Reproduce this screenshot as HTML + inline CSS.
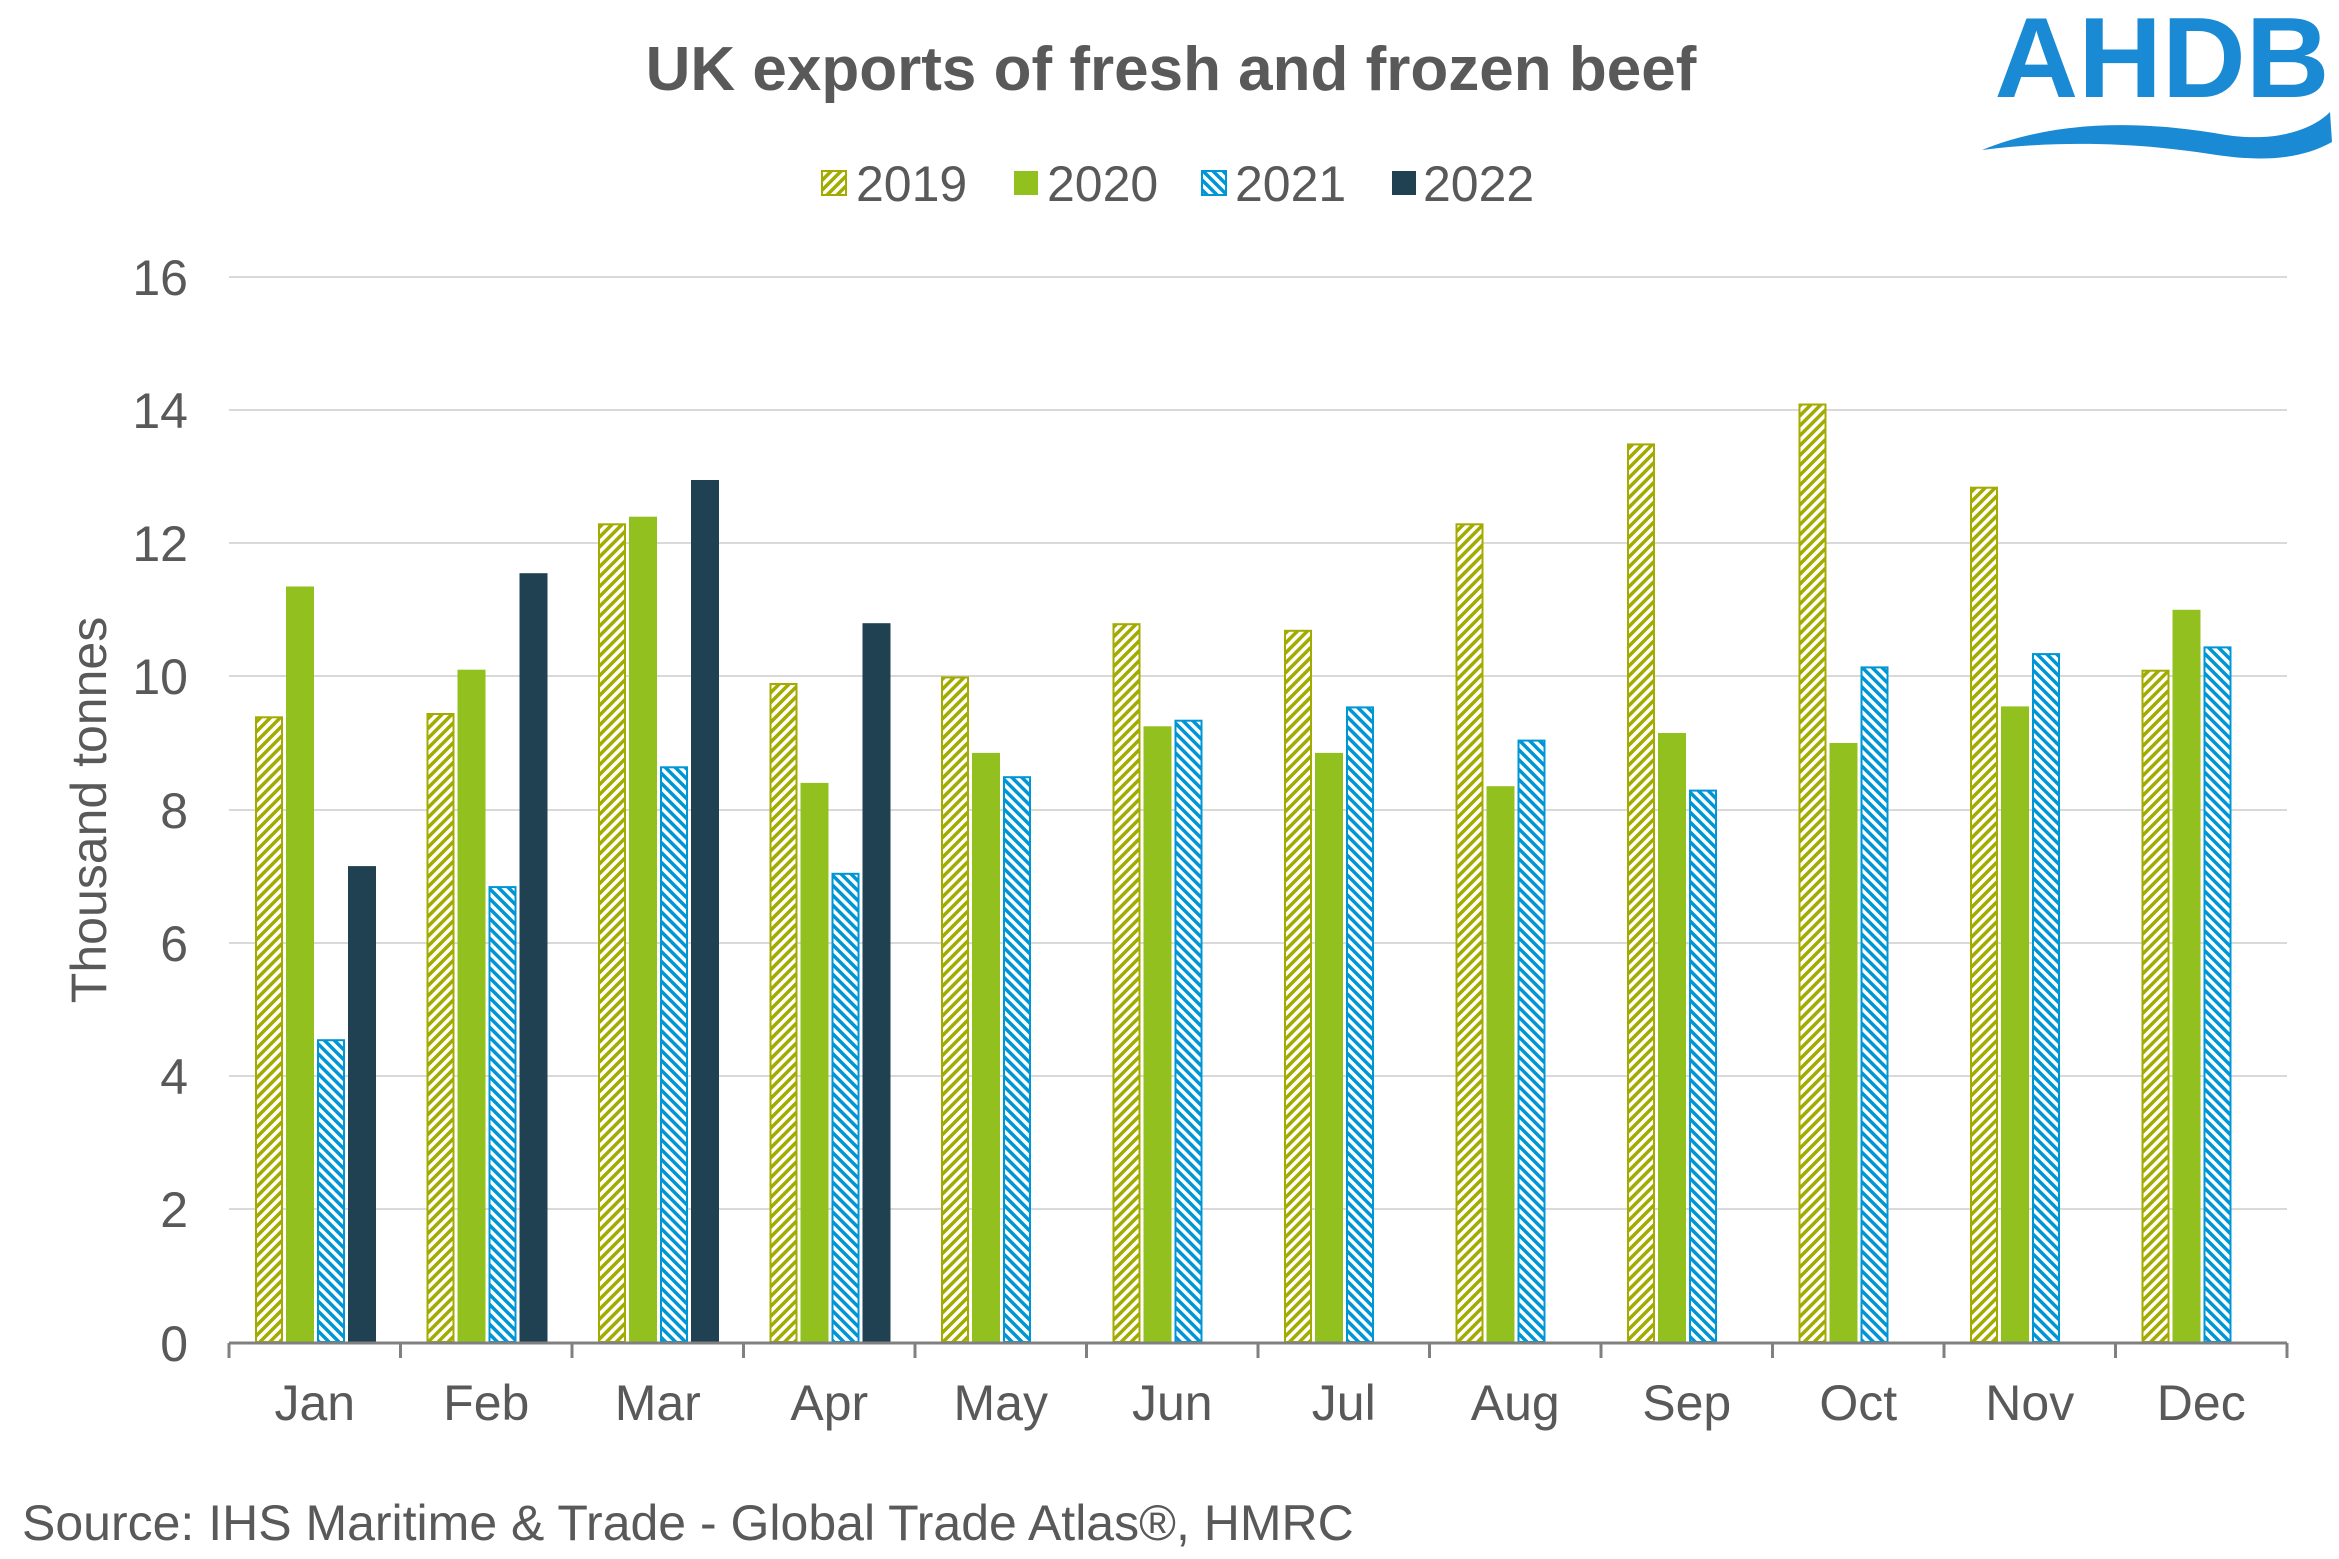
<!DOCTYPE html>
<html><head><meta charset="utf-8"><style>html,body{margin:0;padding:0;background:#fff}svg{display:block}</style></head>
<body>
<svg width="2339" height="1559" viewBox="0 0 2339 1559" xmlns="http://www.w3.org/2000/svg" font-family="Liberation Sans, Arial, sans-serif">
<defs>
<pattern id="p19" patternUnits="userSpaceOnUse" width="7" height="7" patternTransform="rotate(45)">
<rect width="7" height="7" fill="#fff"/><rect width="3.5" height="7" fill="#a3ab00"/></pattern>
<pattern id="p21" patternUnits="userSpaceOnUse" width="7" height="7" patternTransform="rotate(-45)">
<rect width="7" height="7" fill="#fff"/><rect width="3.5" height="7" fill="#0096d6"/></pattern>
</defs>
<rect width="2339" height="1559" fill="#fff"/>
<text x="1171" y="90" font-size="62" font-weight="bold" fill="#595959" text-anchor="middle">UK exports of fresh and frozen beef</text>
<g font-size="50" fill="#595959">
<rect x="822" y="171" width="24" height="24" fill="url(#p19)" stroke="#a3ab00" stroke-width="2"/><text x="856" y="201">2019</text>
<rect x="1014" y="171" width="24" height="24" fill="#92c01f"/><text x="1047" y="201">2020</text>
<rect x="1202" y="171" width="24" height="24" fill="url(#p21)" stroke="#0096d6" stroke-width="2"/><text x="1235" y="201">2021</text>
<rect x="1392" y="171" width="24" height="24" fill="#1f4152"/><text x="1423" y="201">2022</text>
</g>
<g stroke="#d9d9d9" stroke-width="2">
<line x1="229" x2="2287" y1="277" y2="277"/><line x1="229" x2="2287" y1="410" y2="410"/><line x1="229" x2="2287" y1="543" y2="543"/><line x1="229" x2="2287" y1="676" y2="676"/><line x1="229" x2="2287" y1="810" y2="810"/><line x1="229" x2="2287" y1="943" y2="943"/><line x1="229" x2="2287" y1="1076" y2="1076"/><line x1="229" x2="2287" y1="1209" y2="1209"/>
</g>
<g font-size="50" fill="#595959" text-anchor="end">
<text x="188" y="295">16</text><text x="188" y="428">14</text><text x="188" y="561">12</text><text x="188" y="694">10</text><text x="188" y="828">8</text><text x="188" y="961">6</text><text x="188" y="1094">4</text><text x="188" y="1227">2</text><text x="188" y="1361">0</text>
</g>
<text transform="translate(106,810) rotate(-90)" font-size="50" fill="#595959" text-anchor="middle">Thousand tonnes</text>
<g transform="translate(0,1342)">
<g fill="url(#p19)" stroke="#a3ab00" stroke-width="2">
<rect x="256" y="-624.7" width="26" height="624.7"/>
<rect x="427.5" y="-628" width="26" height="628"/>
<rect x="599" y="-817.7" width="26" height="817.7"/>
<rect x="770.5" y="-658" width="26" height="658"/>
<rect x="942" y="-664.6" width="26" height="664.6"/>
<rect x="1113.5" y="-717.8" width="26" height="717.8"/>
<rect x="1285" y="-711.2" width="26" height="711.2"/>
<rect x="1456.5" y="-817.7" width="26" height="817.7"/>
<rect x="1628" y="-897.6" width="26" height="897.6"/>
<rect x="1799.5" y="-937.5" width="26" height="937.5"/>
<rect x="1971" y="-854.3" width="26" height="854.3"/>
<rect x="2142.5" y="-671.3" width="26" height="671.3"/>
</g>
<g fill="#92c01f">
<rect x="286" y="-755.5" width="28" height="755.5"/>
<rect x="457.5" y="-672.3" width="28" height="672.3"/>
<rect x="629" y="-825.3" width="28" height="825.3"/>
<rect x="800.5" y="-559.1" width="28" height="559.1"/>
<rect x="972" y="-589.1" width="28" height="589.1"/>
<rect x="1143.5" y="-615.7" width="28" height="615.7"/>
<rect x="1315" y="-589.1" width="28" height="589.1"/>
<rect x="1486.5" y="-555.8" width="28" height="555.8"/>
<rect x="1658" y="-609" width="28" height="609"/>
<rect x="1829.5" y="-599" width="28" height="599"/>
<rect x="2001" y="-635.6" width="28" height="635.6"/>
<rect x="2172.5" y="-732.2" width="28" height="732.2"/>
</g>
<g fill="url(#p21)" stroke="#0096d6" stroke-width="2">
<rect x="318" y="-301.8" width="26" height="301.8"/>
<rect x="489.5" y="-454.9" width="26" height="454.9"/>
<rect x="661" y="-574.7" width="26" height="574.7"/>
<rect x="832.5" y="-468.2" width="26" height="468.2"/>
<rect x="1004" y="-564.8" width="26" height="564.8"/>
<rect x="1175.5" y="-621.3" width="26" height="621.3"/>
<rect x="1347" y="-634.6" width="26" height="634.6"/>
<rect x="1518.5" y="-601.4" width="26" height="601.4"/>
<rect x="1690" y="-551.4" width="26" height="551.4"/>
<rect x="1861.5" y="-674.6" width="26" height="674.6"/>
<rect x="2033" y="-687.9" width="26" height="687.9"/>
<rect x="2204.5" y="-694.6" width="26" height="694.6"/>
</g>
<g fill="#1f4152">
<rect x="348" y="-475.9" width="28" height="475.9"/>
<rect x="519.5" y="-768.8" width="28" height="768.8"/>
<rect x="691" y="-862" width="28" height="862"/>
<rect x="862.5" y="-718.8" width="28" height="718.8"/>
</g>
</g>
<line x1="229" x2="2287" y1="1343" y2="1343" stroke="#808080" stroke-width="3"/>
<g stroke="#808080" stroke-width="3">
<line x1="229" x2="229" y1="1343" y2="1358"/><line x1="400.5" x2="400.5" y1="1343" y2="1358"/><line x1="572" x2="572" y1="1343" y2="1358"/><line x1="743.5" x2="743.5" y1="1343" y2="1358"/><line x1="915" x2="915" y1="1343" y2="1358"/><line x1="1086.5" x2="1086.5" y1="1343" y2="1358"/><line x1="1258" x2="1258" y1="1343" y2="1358"/><line x1="1429.5" x2="1429.5" y1="1343" y2="1358"/><line x1="1601" x2="1601" y1="1343" y2="1358"/><line x1="1772.5" x2="1772.5" y1="1343" y2="1358"/><line x1="1944" x2="1944" y1="1343" y2="1358"/><line x1="2115.5" x2="2115.5" y1="1343" y2="1358"/><line x1="2287" x2="2287" y1="1343" y2="1358"/>
</g>
<g font-size="50" fill="#595959" text-anchor="middle">
<text x="314.75" y="1420">Jan</text><text x="486.25" y="1420">Feb</text><text x="657.75" y="1420">Mar</text><text x="829.25" y="1420">Apr</text><text x="1000.75" y="1420">May</text><text x="1172.25" y="1420">Jun</text><text x="1343.75" y="1420">Jul</text><text x="1515.25" y="1420">Aug</text><text x="1686.75" y="1420">Sep</text><text x="1858.25" y="1420">Oct</text><text x="2029.75" y="1420">Nov</text><text x="2201.25" y="1420">Dec</text>
</g>
<text x="22" y="1540" font-size="50" fill="#595959">Source: IHS Maritime &amp; Trade - Global Trade Atlas®, HMRC</text>
<text x="2162" y="97" font-size="114" font-weight="bold" fill="#1a8ad4" text-anchor="middle" textLength="335" lengthAdjust="spacingAndGlyphs">AHDB</text>
<path d="M1982,150 C2060,118 2150,122 2220,134 C2270,143 2310,132 2330,112 L2332,142 C2300,160 2260,162 2210,154 C2140,143 2060,140 1982,150 Z" fill="#1a8ad4"/>
</svg>
</body></html>
